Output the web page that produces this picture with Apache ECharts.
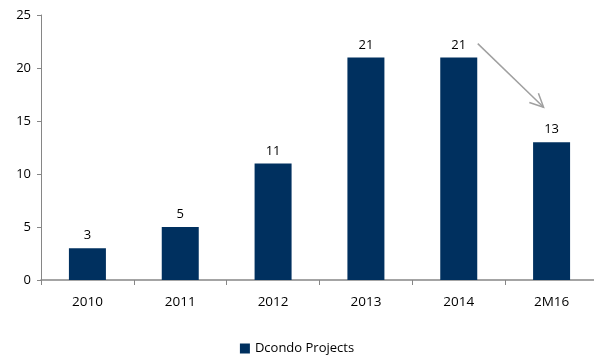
<!DOCTYPE html>
<html><head><meta charset="utf-8">
<script src="https://cdn.jsdelivr.net/npm/echarts@6/dist/echarts.min.js"></script>
<style>html,body{margin:0;padding:0;background:#fff}#c{width:594px;height:356px}</style>
</head><body><div id="c"></div>
<script>
const categories = ['2010','2011','2012','2013','2014','2M16'];
const projects = [3,5,11,21,21,13];
const yTicks = [0,5,10,15,20,25];
const seriesName = 'Dcondo Projects';

const chart = echarts.init(document.getElementById('c'), null, {renderer:'canvas'});
const font = "'Open Sans', 'Liberation Sans', sans-serif";
chart.setOption({
  animation:false,
  textStyle:{fontFamily:font},
  grid:{left:41, top:15, width:557, height:265, containLabel:false, outerBoundsMode:'none'},
  legend:{top:337, left:'center', itemWidth:10, itemHeight:10, icon:'rect', itemGap:6,
    textStyle:{fontSize:13, color:'#000', fontFamily:font}, data:[seriesName]},
  xAxis:{type:'category', data:categories,
    axisLine:{lineStyle:{color:'#868686', width:1.5}},
    axisTick:{show:true, alignWithLabel:false, length:5, lineStyle:{color:'#868686'}},
    axisLabel:{fontSize:13.5, color:'#000', margin:15, fontFamily:font}},
  yAxis:{type:'value', min:yTicks[0], max:yTicks[yTicks.length-1], interval:5,
    splitLine:{show:false},
    axisLine:{show:true, lineStyle:{color:'#868686'}},
    axisTick:{show:true, length:4, lineStyle:{color:'#868686'}},
    axisLabel:{fontSize:13, color:'#000', margin:10, fontFamily:font}},
  series:[{name:seriesName, type:'bar', data:projects, barWidth:37,
    itemStyle:{color:'#00305f'},
    label:{show:true, position:'top', color:'#000', fontSize:13, distance:6, fontFamily:font}}]
});
// arrow from 2014 label toward 2M16 label
const p1 = chart.convertToPixel({xAxisIndex:0, yAxisIndex:0}, ['2014', 22.3]);
const p2 = chart.convertToPixel({xAxisIndex:0, yAxisIndex:0}, ['2M16', 16.3]);
const s = [p1[0]+19, p1[1]], e = [p2[0]-8, p2[1]];
const ang = Math.atan2(e[1]-s[1], e[0]-s[0]);
const L = 15, w = 0.45;
const a1 = [e[0]-L*Math.cos(ang-w), e[1]-L*Math.sin(ang-w)];
const a2 = [e[0]-L*Math.cos(ang+w), e[1]-L*Math.sin(ang+w)];
chart.setOption({graphic:[
  {type:'line', shape:{x1:s[0],y1:s[1],x2:e[0],y2:e[1]}, style:{stroke:'#a0a0a0', lineWidth:1.5}},
  {type:'polyline', shape:{points:[a1,e,a2]}, style:{stroke:'#a0a0a0', lineWidth:1.5, fill:null}}
]});
</script></body></html>
